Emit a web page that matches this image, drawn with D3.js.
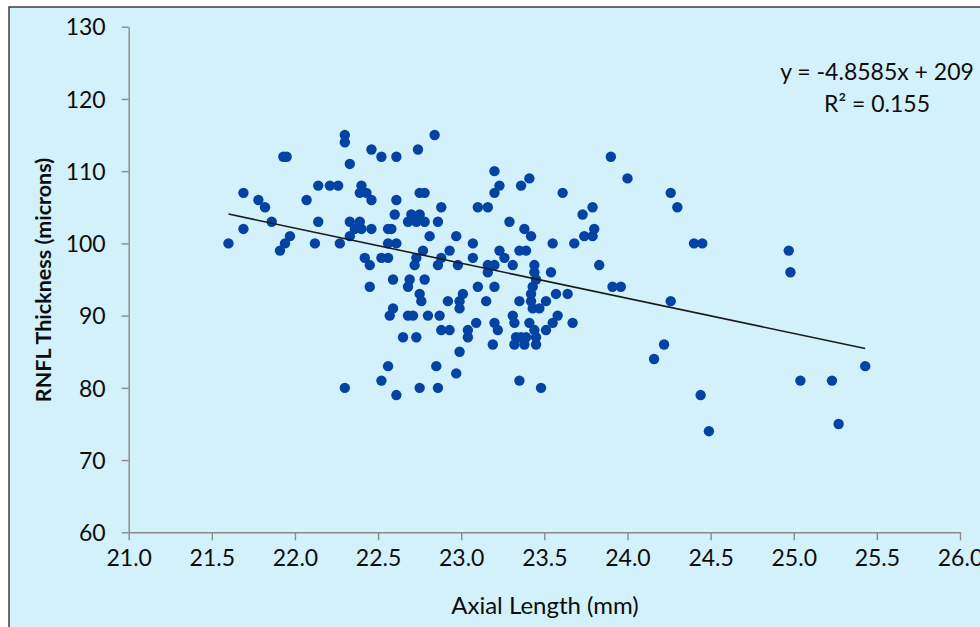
<!DOCTYPE html>
<html>
<head>
<meta charset="utf-8">
<script src="https://cdn.jsdelivr.net/npm/d3@7"></script>
<style>
  body { margin: 0; background: #fff; }
  svg { display: block; font-family: Lato, "Open Sans", sans-serif; }
</style>
</head>
<body>
<svg id="chart" width="980" height="627"></svg>
<script>
// axial length (mm) and RNFL thickness (microns), one entry per eye
const axialLength = [
  22.30, 22.30, 22.46, 22.52, 22.61, 21.93, 21.95, 22.33, 21.69, 22.14,
  22.21, 22.26, 22.40, 22.39, 22.43, 22.46, 21.78, 21.82, 22.07, 22.61,
  22.60, 21.86, 22.14, 22.33, 22.39, 22.36, 22.40, 22.46, 22.56, 22.58,
  21.69, 22.33, 21.97, 21.60, 21.94, 21.91, 22.12, 22.27, 22.56, 22.61,
  22.42, 22.45, 22.52, 22.56, 22.59, 22.45, 22.59, 22.57, 22.65, 22.56,
  22.52, 22.30, 22.61, 22.74, 23.20, 23.23, 23.20, 23.36, 23.41, 23.61,
  22.75, 22.78, 22.88, 23.10, 23.16, 22.70, 22.75, 22.68, 22.73, 22.78,
  22.86, 23.29, 23.38, 23.42, 22.81, 22.97, 23.07, 23.55, 23.68, 22.77,
  22.93, 23.23, 23.26, 23.35, 23.39, 22.73, 22.72, 22.88, 22.86, 23.07,
  22.98, 23.16, 23.20, 23.31, 23.44, 23.44, 23.45, 23.54, 23.16, 22.69,
  22.68, 22.78, 23.10, 23.20, 23.43, 23.42, 23.42, 23.43, 23.47, 22.75,
  22.76, 23.01, 22.99, 22.99, 22.92, 23.15, 23.35, 23.51, 23.57, 23.64,
  22.68, 22.71, 22.80, 22.87, 23.31, 23.32, 23.58, 23.55, 23.51, 23.67,
  23.09, 23.20, 23.22, 23.41, 23.44, 23.45, 22.88, 22.93, 23.04, 23.04,
  23.33, 23.36, 23.39, 23.32, 23.38, 23.45, 22.73, 23.19, 22.99, 22.85,
  22.97, 22.75, 22.86, 23.35, 23.48, 23.90, 24.00, 24.26, 24.30, 23.79,
  23.73, 23.80, 23.74, 23.79, 24.40, 24.45, 24.97, 24.98, 23.83, 23.91,
  23.96, 24.26, 24.22, 24.16, 24.44, 24.49, 25.04, 25.23, 25.43, 25.27,
  22.84
];
const rnflThickness = [
  115, 114, 113, 112, 112, 112, 112, 111, 107, 108,
  108, 108, 108, 107, 107, 106, 106, 105, 106, 106,
  104, 103, 103, 103, 103, 102, 102, 102, 102, 102,
  102, 101, 101, 100, 100, 99, 100, 100, 100, 100,
  98, 97, 98, 98, 95, 94, 91, 90, 87, 83,
  81, 80, 79, 113, 110, 108, 107, 108, 109, 107,
  107, 107, 105, 105, 105, 104, 104, 103, 103, 103,
  103, 103, 102, 101, 101, 101, 100, 100, 100, 99,
  99, 99, 98, 99, 99, 98, 97, 98, 97, 98,
  97, 97, 97, 97, 97, 96, 95, 96, 96, 95,
  94, 95, 94, 94, 94, 93, 92, 91, 91, 93,
  92, 93, 92, 91, 92, 92, 92, 92, 93, 93,
  90, 90, 90, 90, 90, 89, 90, 89, 88, 89,
  89, 89, 88, 89, 88, 87, 88, 88, 88, 87,
  87, 87, 87, 86, 86, 86, 87, 86, 85, 83,
  82, 80, 80, 81, 80, 112, 109, 107, 105, 105,
  104, 102, 101, 101, 100, 100, 99, 96, 97, 94,
  94, 92, 86, 84, 79, 74, 81, 81, 83, 75,
  115
];

// trendline reported on the chart
const slope = -4.8585;
const intercept = 209;
const equationLines = ["y = -4.8585x + 209", "R\u00b2 = 0.155"];

const xTicks = [21.0, 21.5, 22.0, 22.5, 23.0, 23.5, 24.0, 24.5, 25.0, 25.5, 26.0];
const yTicks = [60, 70, 80, 90, 100, 110, 120, 130];

const points = axialLength.map((d, i) => ({ x: d, y: rnflThickness[i] }));

const svg = d3.select("#chart");

// chart area background with dark frame, cut off on the right and bottom
svg.append("rect")
  .attr("x", 9)
  .attr("y", 7)
  .attr("width", 990)
  .attr("height", 650)
  .attr("fill", "#d3f1fb")
  .attr("stroke", "#3c3c3c")
  .attr("stroke-width", 1.5);

const x = d3.scaleLinear().domain([21, 26]).range([128.7, 960]);
const y = d3.scaleLinear().domain([60, 130]).range([532.3, 26.7]);

const yAxis = svg.append("g")
  .attr("transform", "translate(128.7,0)")
  .call(d3.axisLeft(y).tickValues(yTicks).tickSize(7).tickPadding(16).tickSizeOuter(0));

const xAxis = svg.append("g")
  .attr("transform", "translate(0,532.3)")
  .call(d3.axisBottom(x).tickValues(xTicks).tickFormat(d3.format(".1f")).tickSize(8).tickPadding(9).tickSizeOuter(0));

[xAxis, yAxis].forEach(g => {
  g.select(".domain").attr("stroke", "#8a8a8a").attr("stroke-width", 1.4);
  g.selectAll(".tick line").attr("stroke", "#8a8a8a").attr("stroke-width", 1.4);
  g.selectAll(".tick text")
    .attr("fill", "#0d0d0d")
    .style("font-size", "23px")
    .style("font-family", "Lato, sans-serif");
});
yAxis.selectAll(".tick text").attr("dy", "0.36em");

// points
svg.append("g")
  .selectAll("circle")
  .data(points)
  .join("circle")
  .attr("cx", d => x(d.x))
  .attr("cy", d => y(d.y))
  .attr("r", 5.2)
  .attr("fill", "#0443a3");

// linear trendline over the data range
const xExt = d3.extent(axialLength);
const trend = xExt.map(v => ({ x: v, y: slope * v + intercept }));
svg.append("path")
  .datum(trend)
  .attr("fill", "none")
  .attr("stroke", "#1a1a1a")
  .attr("stroke-width", 1.6)
  .attr("d", d3.line().x(d => x(d.x)).y(d => y(d.y)));

// equation label
svg.append("g")
  .selectAll("text")
  .data(equationLines)
  .join("text")
  .attr("x", 877)
  .attr("y", (d, i) => 80 + i * 32)
  .attr("text-anchor", "middle")
  .style("font-size", "23px")
  .attr("fill", "#0d0d0d")
  .text(d => d);

// axis titles
svg.append("text")
  .attr("x", 545)
  .attr("y", 614)
  .attr("text-anchor", "middle")
  .style("font-size", "24px")
  .attr("fill", "#0d0d0d")
  .text("Axial Length (mm)");

svg.append("text")
  .attr("transform", "translate(51,280) rotate(-90)")
  .attr("text-anchor", "middle")
  .style("font-size", "21.5px")
  .style("font-weight", "bold")
  .attr("fill", "#0d0d0d")
  .text("RNFL Thickness (microns)");
</script>
</body>
</html>
